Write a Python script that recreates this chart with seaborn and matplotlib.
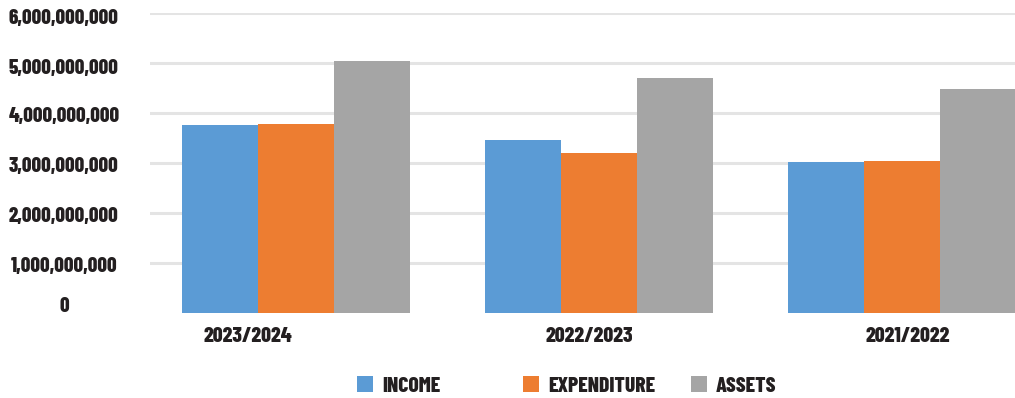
import matplotlib
matplotlib.use("Agg")
import matplotlib.pyplot as plt
import matplotlib.transforms as mtransforms
import seaborn as sns
import pandas as pd

# Financial summary by year
years = ["2023/2024", "2022/2023", "2021/2022"]
series = ["INCOME", "EXPENDITURE", "ASSETS"]
income = [3.76e9, 3.46e9, 3.02e9]
expenditure = [3.78e9, 3.20e9, 3.04e9]
assets = [5.05e9, 4.71e9, 4.49e9]
y_ticks = [0, 1e9, 2e9, 3e9, 4e9, 5e9, 6e9]
colors = ["#5b9bd5", "#ed7d31", "#a5a5a5"]

df = pd.DataFrame({
    "year": years * 3,
    "series": [series[0]] * 3 + [series[1]] * 3 + [series[2]] * 3,
    "value": income + expenditure + assets,
})

sns.set_theme(style="white")
plt.rcParams["font.family"] = ["Barlow Condensed", "DejaVu Sans"]
plt.rcParams["font.weight"] = 800
text_color = "#231f20"

fig = plt.figure(figsize=(10.15, 3.98), dpi=100)
ax = fig.add_axes([150 / 1015, (398 - 313) / 398, 865 / 1015, 300 / 398])

sns.barplot(data=df, x="year", y="value", hue="series", hue_order=series,
            order=years, palette=colors, saturation=1, width=0.75,
            edgecolor="none", linewidth=0, ax=ax, zorder=3)

ax.set_ylim(0, 6e9)
ax.set_xlim(-0.482, 2.373)
ax.set_yticks(y_ticks)
ax.set_yticklabels([f"{v:,.0f}" for v in y_ticks])
ax.yaxis.grid(True, color="#e4e4e4", linewidth=2.2, zorder=0)
ax.yaxis.get_gridlines()[0].set_visible(False)
ax.xaxis.grid(False)
ax.set_axisbelow(True)
for s in ax.spines.values():
    s.set_visible(False)
ax.set_xlabel("")
ax.set_ylabel("")

ax.tick_params(axis="y", length=0, pad=62, labelsize=15, labelcolor=text_color)
ax.tick_params(axis="x", length=0, pad=10, labelsize=15.5, labelcolor=text_color)
ylabels = ax.get_yticklabels()
for lab in ylabels:
    lab.set_horizontalalignment("center")
    lab.set_fontweight(800)
# the zero label rides a little above the baseline; the rest sit just under their lines
y_shift = [8, -2, -2, -1, -1, -3, -3]
for lab, dy in zip(ylabels, y_shift):
    lab.set_transform(lab.get_transform() +
                      mtransforms.ScaledTranslation(0, dy / 100, fig.dpi_scale_trans))

# category labels sit slightly off their group centres
x_shift = [-48, -10, 6]
for lab, dx in zip(ax.get_xticklabels(), x_shift):
    lab.set_fontweight(800)
    lab.set_transform(lab.get_transform() +
                      mtransforms.ScaledTranslation(dx / 100, 0, fig.dpi_scale_trans))

handles, labels = ax.get_legend_handles_labels()
ax.get_legend().remove()

# one legend entry per slot along the bottom
slot_x = [357, 523, 691]
for h, l, sx in zip(handles, labels, slot_x):
    leg = fig.legend([h], [l], loc="center left",
                     bbox_to_anchor=(sx / 1015, 1 - 386 / 398),
                     frameon=False, handlelength=0.74, handleheight=0.74,
                     handletextpad=0.42, borderpad=0, borderaxespad=0,
                     prop={"size": 15.5, "weight": 800})
    for t in leg.get_texts():
        t.set_color(text_color)

fig.savefig("out.png", dpi=100)
